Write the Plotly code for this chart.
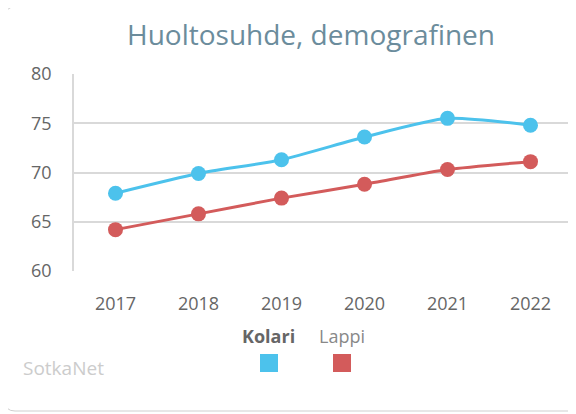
import plotly.graph_objects as go

years = ["2017", "2018", "2019", "2020", "2021", "2022"]
kolari = [67.9, 69.9, 71.3, 73.6, 75.5, 74.8]
lappi = [64.2, 65.8, 67.4, 68.8, 70.3, 71.1]
series_names = ["Kolari", "Lappi"]
colors = ["#4cc2ec", "#d35b5b"]
title_text = "Huoltosuhde, demografinen"
source_text = "SotkaNet"

# page offset (browser body margin)
O = 8
W, H = 576 - O, 414 - O
PL, PR, PT, PB = 74, 572, 74, 271  # plot area in page pixels
L, T = PL - O, PT - O
R, B = W - (PR - O), H - (PB - O)
pw, ph = PR - PL, PB - PT

def px(x):
    return (x - PL) / pw

def py(y):
    return (PB - y) / ph

fig = go.Figure()
for name, vals, col in zip(series_names, [kolari, lappi], colors):
    fig.add_trace(go.Scatter(
        x=years, y=vals, name=name, mode="lines+markers",
        line=dict(color=col, width=3, shape="spline", smoothing=0.6),
        marker=dict(color=col, size=15),
        showlegend=False, hoverinfo="x+y+name"))

# card border with rounded corners
x0, x1, y0, y1 = px(5), px(590), py(7), py(411)
rx, ry = 10 / pw, 10 / ph
path = (f"M {x0+rx},{y0} L {x1-rx},{y0} Q {x1},{y0} {x1},{y0-ry} "
        f"L {x1},{y1+ry} Q {x1},{y1} {x1-rx},{y1} L {x0+rx},{y1} "
        f"Q {x0},{y1} {x0},{y1+ry} L {x0},{y0-ry} Q {x0},{y0} {x0+rx},{y0} Z")
shapes = [dict(type="path", xref="paper", yref="paper", path=path,
               line=dict(color="#cfcfcf", width=1), fillcolor="rgba(0,0,0,0)", layer="below")]

# legend squares
leg_x = [269, 342]
for cx, col in zip(leg_x, colors):
    shapes.append(dict(type="rect", xref="paper", yref="paper",
                       x0=px(cx - 9), x1=px(cx + 9), y0=py(372), y1=py(354),
                       fillcolor=col, line=dict(width=0)))

annotations = [
    dict(text=title_text, x=px(311), y=py(34), xref="paper", yref="paper",
         showarrow=False, font=dict(family="Open Sans", size=28, color="#6b8c9c"),
         xanchor="center", yanchor="middle"),
    dict(text="<b>Kolari</b>", x=px(268), y=py(336), xref="paper", yref="paper",
         showarrow=False, font=dict(family="Open Sans", size=18, color="#666666"),
         xanchor="center", yanchor="middle"),
    dict(text="Lappi", x=px(342), y=py(336), xref="paper", yref="paper",
         showarrow=False, font=dict(family="Open Sans", size=18, color="#888888"),
         xanchor="center", yanchor="middle"),
    dict(text=source_text, x=px(21), y=py(368), xref="paper", yref="paper",
         showarrow=False, font=dict(family="Open Sans", size=19, color="#cccccc"),
         xanchor="left", yanchor="middle"),
]

fig.update_layout(
    width=W, height=H, autosize=False,
    margin=dict(l=L, r=R, t=T, b=B, pad=0),
    paper_bgcolor="white", plot_bgcolor="white",
    shapes=shapes, annotations=annotations,
    font=dict(family="Open Sans", color="#666666", size=18),
    xaxis=dict(type="category", range=[-0.5, 5.5], showgrid=False, zeroline=False,
               showline=False, ticks="", tickfont=dict(size=18, color="#666666"),
               ticklabelstandoff=20, fixedrange=True),
    yaxis=dict(range=[60, 80], tickvals=[60, 65, 70, 75, 80], showgrid=True,
               gridcolor="#d9d9d9", gridwidth=1.5, zeroline=False, showline=True,
               linecolor="#d9d9d9", linewidth=1.5, ticks="",
               tickfont=dict(size=18, color="#666666"), ticklabelstandoff=17,
               fixedrange=True),
)

fig.write_html("out.html")
